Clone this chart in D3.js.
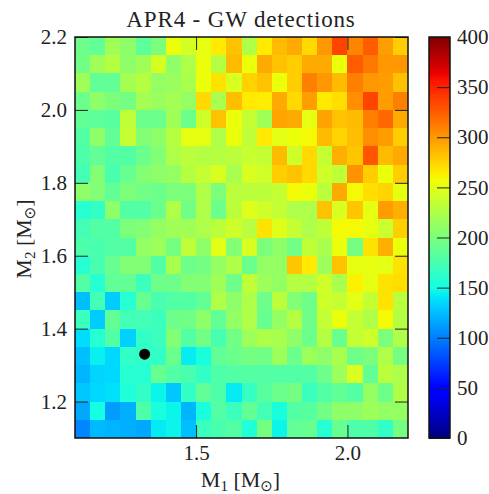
<!DOCTYPE html>
<html lang="en">
<head>
<meta charset="UTF-8">
<title>APR4 - GW detections</title>
<style>
  html, body { margin: 0; padding: 0; background: #fff; }
  svg { display: block; }
  text { font-family: "Liberation Serif", serif; fill: #222; }
  .tick text { font-size: 21px; }
  .domain { display: none; }
</style>
</head>
<body>
<svg width="489" height="494"></svg>
<script src="https://d3js.org/d3.v7.min.js"></script>
<script>
// left edge of each cell along each axis
var m1Edges = [1.10,1.15,1.20,1.25,1.30,1.35,1.40,1.45,1.50,1.55,1.60,1.65,1.70,1.75,1.80,1.85,1.90,1.95,2.00,2.05,2.10,2.15];
var m2Edges = [2.15,2.10,2.05,2.00,1.95,1.90,1.85,1.80,1.75,1.70,1.65,1.60,1.55,1.50,1.45,1.40,1.35,1.30,1.25,1.20,1.15,1.10];
var m1Ticks = [1.5, 2.0];
var m2Ticks = [1.2, 1.4, 1.6, 1.8, 2.0, 2.2];
var cbTicks = [0, 50, 100, 150, 200, 250, 300, 350, 400];
var marker = [1.33, 1.33];

// one row per m2Edges entry, top row first
var detections = [
  [193,187,218,209,185,200,255,243,252,265,282,225,265,285,292,272,300,335,308,325,297,277],
  [195,218,228,209,218,243,209,225,255,228,285,255,292,282,277,292,292,255,325,313,300,300],
  [218,187,187,220,228,212,214,222,255,268,245,275,282,255,277,310,300,285,310,300,298,282],
  [192,209,200,197,220,214,220,212,272,222,283,265,264,292,272,297,265,270,304,335,298,310],
  [187,185,183,233,192,192,218,192,240,282,255,235,218,295,292,252,295,282,285,310,320,292],
  [180,209,187,235,203,209,228,252,252,225,255,233,265,250,255,258,285,274,283,304,298,277],
  [178,187,180,180,192,203,225,231,228,228,231,237,235,285,240,272,235,290,280,328,285,292],
  [172,203,175,190,203,209,212,228,235,245,222,245,240,277,282,272,240,233,302,277,255,277],
  [209,203,187,200,195,192,200,200,225,200,231,231,231,235,258,255,231,292,258,270,274,252],
  [158,164,209,180,180,192,225,195,225,192,231,248,240,235,224,224,282,245,280,252,298,290],
  [172,180,180,200,203,212,218,218,224,231,240,229,268,248,235,224,233,258,258,252,238,276],
  [178,175,180,180,212,216,197,233,209,250,203,245,200,209,195,233,222,255,197,268,290,255],
  [158,175,190,203,203,180,222,193,197,212,225,192,212,212,280,265,216,282,252,252,250,268],
  [180,158,187,187,168,193,193,203,203,218,193,233,216,212,228,228,240,222,262,252,268,270],
  [125,172,130,158,190,175,180,180,187,225,209,225,193,231,203,193,240,235,250,235,268,231],
  [168,130,187,172,172,168,193,195,209,187,212,225,190,212,228,193,235,255,235,225,258,228],
  [137,158,180,132,164,168,203,180,195,175,195,216,224,222,209,192,228,190,235,240,200,225],
  [125,144,135,164,162,164,192,143,152,187,192,197,195,216,192,216,209,222,193,200,225,197],
  [121,133,135,158,158,190,180,175,164,178,180,180,180,180,180,180,193,216,245,187,231,224],
  [128,135,138,155,164,146,128,164,187,178,142,166,183,192,197,168,180,187,180,212,193,225],
  [116,150,111,119,178,152,146,121,152,180,168,187,172,152,180,183,195,209,209,216,212,212],
  [103,123,121,119,116,142,146,125,168,175,180,155,197,146,187,190,158,190,178,178,164,197]
];

var cellSize = 0.05;
var plot = {left: 75, right: 408, top: 37, bottom: 438};
var bar = {left: 429, right: 450};

var svg = d3.select("svg");

var x = d3.scaleLinear().domain([1.1, 2.2]).range([plot.left, plot.right]);
var y = d3.scaleLinear().domain([1.1, 2.2]).range([plot.bottom, plot.top]);
var cbY = d3.scaleLinear().domain([0, 400]).range([plot.bottom, plot.top]);

// matplotlib jet, channel by channel
function ramp(stops) {
  return d3.scaleLinear().domain(stops.map(function(s) { return s[0]; })).range(stops.map(function(s) { return s[1]; })).clamp(true);
}
var red = ramp([[0,0],[.35,0],[.66,1],[.89,1],[1,.5]]);
var green = ramp([[0,0],[.125,0],[.375,1],[.64,1],[.91,0],[1,0]]);
var blue = ramp([[0,.5],[.11,1],[.34,1],[.65,0],[1,0]]);
var jet = function(v) {
  var t = v / 400;
  return d3.rgb(red(t) * 255, green(t) * 255, blue(t) * 255).formatHex();
};

// heatmap
var cells = svg.append("g").attr("shape-rendering", "crispEdges");
detections.forEach(function(row, r) {
  cells.selectAll(".row" + r)
    .data(row)
    .enter().append("rect")
    .attr("class", "row" + r)
    .attr("x", function(d, c) { return x(m1Edges[c]); })
    .attr("y", y(m2Edges[r] + cellSize))
    .attr("width", function(d, c) { return x(m1Edges[c] + cellSize) - x(m1Edges[c]); })
    .attr("height", y(m2Edges[r]) - y(m2Edges[r] + cellSize))
    .attr("fill", jet);
});

svg.append("circle")
  .attr("cx", x(marker[0]))
  .attr("cy", y(marker[1]))
  .attr("r", 5.5)
  .attr("fill", "#000");

// axes, ticks point inward on all four sides
var tickLen = -13;
svg.append("g").attr("transform", "translate(0," + plot.bottom + ")")
  .call(d3.axisBottom(x).tickValues(m1Ticks).tickFormat(d3.format(".1f")).tickSize(tickLen).tickPadding(7));
svg.append("g").attr("transform", "translate(0," + plot.top + ")")
  .call(d3.axisTop(x).tickValues(m1Ticks).tickFormat("").tickSize(tickLen));
svg.append("g").attr("transform", "translate(" + plot.left + ",0)")
  .call(d3.axisLeft(y).tickValues(m2Ticks).tickFormat(d3.format(".1f")).tickSize(tickLen).tickPadding(8));
svg.append("g").attr("transform", "translate(" + plot.right + ",0)")
  .call(d3.axisRight(y).tickValues(m2Ticks).tickFormat("").tickSize(tickLen));

svg.append("rect")
  .attr("x", plot.left).attr("y", plot.top)
  .attr("width", plot.right - plot.left).attr("height", plot.bottom - plot.top)
  .attr("fill", "none").attr("stroke", "#111").attr("stroke-width", 1.5);

// colorbar
svg.append("g").attr("shape-rendering", "crispEdges")
  .selectAll("rect")
  .data(d3.range(0, 400, 400 / 256))
  .enter().append("rect")
  .attr("x", bar.left)
  .attr("y", function(d) { return cbY(d + 400 / 256); })
  .attr("width", bar.right - bar.left)
  .attr("height", function(d) { return cbY(d) - cbY(d + 400 / 256) + 0.5; })
  .attr("fill", jet);

svg.append("g").attr("transform", "translate(" + bar.right + ",0)")
  .call(d3.axisRight(cbY).tickValues(cbTicks).tickSize(tickLen).tickPadding(7));

svg.append("rect")
  .attr("x", bar.left).attr("y", plot.top)
  .attr("width", bar.right - bar.left).attr("height", plot.bottom - plot.top)
  .attr("fill", "none").attr("stroke", "#111").attr("stroke-width", 1.5);

svg.selectAll(".tick line").attr("stroke", "#222").attr("stroke-width", 1);

// titles
svg.append("text")
  .attr("x", (plot.left + plot.right) / 2 - 0.5)
  .attr("y", 27)
  .attr("text-anchor", "middle")
  .attr("font-size", 23)
  .attr("letter-spacing", 0.85)
  .text("APR4 - GW detections");

function massLabel(sel, sub) {
  sel.attr("text-anchor", "middle").attr("font-size", 22);
  sel.append("tspan").text("M");
  sel.append("tspan").attr("dy", 4).attr("font-size", 15).text(sub);
  sel.append("tspan").attr("dy", -4).text(" [M");
  sel.append("tspan").attr("dy", 4).attr("font-size", 15).attr("font-family", "DejaVu Sans").text("\u2299");
  sel.append("tspan").attr("dy", -4).text("]");
}

svg.append("text")
  .attr("x", (plot.left + plot.right) / 2 - 1)
  .attr("y", 487)
  .call(massLabel, "1");

svg.append("text")
  .attr("transform", "translate(31,239) rotate(-90)")
  .call(massLabel, "2");
</script>
</body>
</html>
